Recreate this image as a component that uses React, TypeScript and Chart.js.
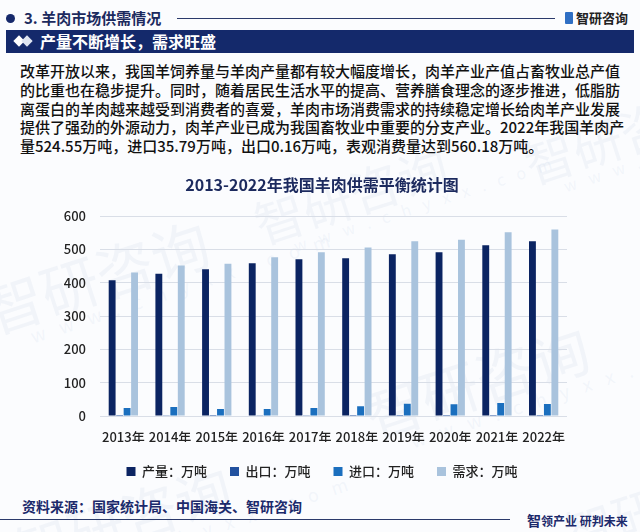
import React, { useEffect, useRef } from "react";
import { Chart, registerables } from "chart.js";

Chart.register(...registerables);

const years = ["2013年", "2014年", "2015年", "2016年", "2017年", "2018年", "2019年", "2020年", "2021年", "2022年"];
const production = [408, 427, 441, 459, 471, 474, 486, 492, 513, 524.55];
const exportsData = [0.3, 0.4, 0.3, 0.4, 0.4, 0.3, 0.2, 0.2, 0.2, 0.16];
const imports = [24, 27, 21, 21, 24, 29, 37, 35, 39, 35.79];
const demand = [431, 452, 457, 477, 492, 506, 525, 529, 552, 560.18];
const seriesNames = ["产量：万吨", "出口：万吨", "进口：万吨", "需求：万吨"];
const yTicks = [0, 100, 200, 300, 400, 500, 600];

const CJK = '"Noto Sans CJK SC", "Noto Sans", sans-serif';
const NAVY = "#16296b";

const watermarks = [
  { x: -20, y: 225, s: 58 },
  { x: 250, y: 150, s: 50 },
  { x: 360, y: 330, s: 58 },
  { x: 520, y: 90, s: 50 },
  { x: 10, y: 470, s: 56 },
  { x: 560, y: 460, s: 50 },
];

// draws the y tick labels (outside the narrow axis box) from the y scale
const yLabelPlugin = {
  id: "yLabels",
  afterDraw(chart: any) {
    const y = chart.scales.y;
    const ctx = chart.ctx;
    ctx.save();
    ctx.font = `500 13px ${CJK}`;
    ctx.fillStyle = "#222";
    ctx.textAlign = "right";
    ctx.textBaseline = "middle";
    yTicks.forEach((v) => {
      ctx.fillText(String(v), y.right - 14, y.getPixelForValue(v));
    });
    ctx.restore();
  },
};

function ChartBox() {
  const ref = useRef<HTMLCanvasElement | null>(null);
  useEffect(() => {
    if (!ref.current) return;
    const chart = new Chart(ref.current, {
      type: "bar",
      data: {
        labels: years,
        datasets: [
          { label: seriesNames[0], data: production, backgroundColor: "#0b2462" },
          { label: seriesNames[1], data: exportsData, backgroundColor: "#22519f" },
          { label: seriesNames[2], data: imports, backgroundColor: "#1b6fbe" },
          { label: seriesNames[3], data: demand, backgroundColor: "#a9c3dd" },
        ],
      },
      plugins: [yLabelPlugin],
      options: {
        animation: false,
        responsive: false,
        maintainAspectRatio: false,
        datasets: { bar: { categoryPercentage: 0.64, barPercentage: 0.92 } },
        layout: { padding: { left: 77, right: 73, top: 0, bottom: 0 } },
        plugins: {
          title: {
            display: true,
            text: "2013-2022年我国羊肉供需平衡统计图",
            color: "#1c2a5e",
            font: { family: CJK, size: 16, weight: "bold" },
            padding: { top: 10, bottom: 22 },
          },
          legend: {
            position: "bottom",
            labels: {
              boxWidth: 9,
              boxHeight: 9,
              padding: 23,
              color: "#222",
              font: { family: CJK, size: 13, weight: "500" },
            },
          },
          tooltip: { enabled: false },
        },
        scales: {
          x: {
            grid: { display: false },
            border: { display: false },
            ticks: {
              autoSkip: false,
              maxRotation: 0,
              minRotation: 0,
              color: "#222",
              font: { family: CJK, size: 13, weight: "500" },
              padding: 5,
            },
            afterFit: (s: any) => { s.height = 26; },
          },
          y: {
            min: 0,
            max: 600,
            afterBuildTicks: (s: any) => { s.ticks = yTicks.map((v) => ({ value: v })); },
            grid: { color: "#d9dee7", lineWidth: 1, drawTicks: false },
            border: { display: false },
            ticks: { display: false },
            afterFit: (s: any) => { s.width = 23; },
          },
        },
      },
    });
    return () => chart.destroy();
  }, []);
  return <canvas ref={ref} width={640} height={323} style={{ position: "absolute", left: 0, top: 165 }} />;
}

export default function App() {
  return (
    <div style={{ position: "fixed", left: 0, top: 0, width: 640, height: 532, background: "#fbfcfe", overflow: "hidden", fontFamily: CJK }}>
      {watermarks.map((w, i) => (
        <div key={i} style={{ position: "absolute", left: w.x, top: w.y, transform: "rotate(-18deg)", color: "rgba(185,200,222,0.14)", fontSize: w.s, fontWeight: 400, whiteSpace: "nowrap", lineHeight: 1 }}>
          智研咨询
          <div style={{ fontSize: w.s * 0.32, fontWeight: 400, letterSpacing: w.s * 0.25, marginLeft: w.s * 0.6 }}>www.chyxx.com</div>
        </div>
      ))}
      {/* header */}
      <div style={{ position: "absolute", left: 6, top: 14, width: 9, height: 9, borderRadius: 5, background: NAVY }} />
      <div style={{ position: "absolute", left: 24, top: 7, fontSize: 15, fontWeight: 700, color: "#1c2a5e", lineHeight: "22px", whiteSpace: "nowrap" }}>3. 羊肉市场供需情况</div>
      <div style={{ position: "absolute", left: 177, top: 18, width: 378, height: 1, background: "#2b3a6b" }} />
      <div style={{ position: "absolute", left: 565, top: 12, width: 8, height: 12, background: "#2f6fc4", borderRadius: 1 }} />
      <div style={{ position: "absolute", left: 576, top: 7, fontSize: 13, fontWeight: 700, color: "#222", lineHeight: "22px", whiteSpace: "nowrap" }}>智研咨询</div>
      {/* banner */}
      <div style={{ position: "absolute", left: 6, top: 30, width: 628, height: 23, background: "#14296b" }} />
      <div style={{ position: "absolute", left: 15, top: 37, width: 8, height: 8, background: "#fff", transform: "rotate(45deg)" }} />
      <div style={{ position: "absolute", left: 23, top: 37, width: 8, height: 8, background: "#dfe6f2", transform: "rotate(45deg)" }} />
      <div style={{ position: "absolute", left: 40, top: 30, fontSize: 16, fontWeight: 700, color: "#fff", lineHeight: "23px", whiteSpace: "nowrap" }}>产量不断增长，需求旺盛</div>
      {/* paragraph */}
      <div style={{ position: "absolute", left: 20, top: 62, fontSize: 15, fontWeight: 500, color: "#111", lineHeight: "18.8px", whiteSpace: "nowrap" }}>
        改革开放以来，我国羊饲养量与羊肉产量都有较大幅度增长，肉羊产业产值占畜牧业总产值<br />
        的比重也在稳步提升。同时，随着居民生活水平的提高、营养膳食理念的逐步推进，低脂肪<br />
        离蛋白的羊肉越来越受到消费者的喜爱，羊肉市场消费需求的持续稳定增长给肉羊产业发展<br />
        提供了强劲的外源动力，肉羊产业已成为我国畜牧业中重要的分支产业。2022年我国羊肉产<br />
        量524.55万吨，进口35.79万吨，出口0.16万吨，表观消费量达到560.18万吨。
      </div>
      <ChartBox />
      {/* footer */}
      <div style={{ position: "absolute", left: 22, top: 495, fontSize: 14, fontWeight: 700, color: "#1c2a6b", lineHeight: "22px", whiteSpace: "nowrap" }}>资料来源：国家统计局、中国海关、智研咨询</div>
      <div style={{ position: "absolute", left: 0, top: 519, width: 510, height: 1, background: "#2b3a6b" }} />
      <div style={{ position: "absolute", left: 527, top: 510, fontSize: 12, fontWeight: 700, color: "#1c2a6b", lineHeight: "20px", whiteSpace: "nowrap" }}>
        <span style={{ fontSize: 14 }}>智</span>领产业 研判未来
      </div>
    </div>
  );
}
